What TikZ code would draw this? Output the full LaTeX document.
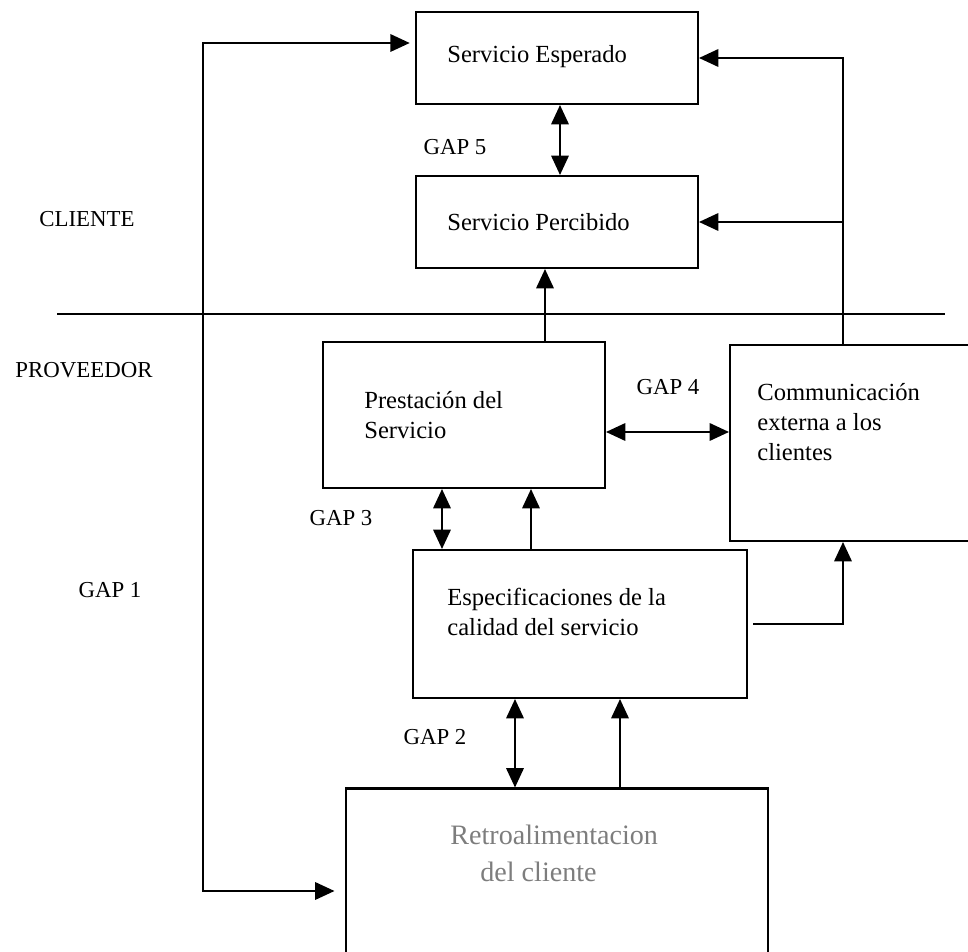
\documentclass[tikz,border=0pt]{standalone}
\usepackage{fontspec}
\setmainfont{Liberation Serif}
\usetikzlibrary{arrows.meta}
\definecolor{retrogray}{RGB}{125,125,125}

\begin{document}
\begin{tikzpicture}[x=0.02cm, y=-0.02cm,
          every node/.style={font=\fontsize{14}{17}\selectfont},
          box/.style={draw,line width=1.2pt,inner sep=0pt},
          txt/.style={anchor=west,align=left,inner sep=0pt},
          lbl/.style={font=\fontsize{13}{15}\selectfont,inner sep=0pt},
          link/.style={line width=0.9pt},
          oarr/.style={link,-{Triangle[length=11pt,width=10pt]}},
          darr/.style={link,{Triangle[length=11pt,width=10pt]}-{Triangle[length=11pt,width=10pt]}},
        ]
        \useasboundingbox (0,0) rectangle (968,952);
        \clip (0,0) rectangle (968,952);
        % boxes
        \node[box,minimum width=5.64cm,minimum height=1.84cm] (esperado) at (557,58) {};
        \node[box,minimum width=5.64cm,minimum height=1.84cm] (percibido) at (557,222) {};
        \node[box,minimum width=5.64cm,minimum height=2.92cm] (prestacion) at (464,415) {};
        \node[box,minimum width=5.0cm,minimum height=3.92cm] (comunic) at (855,443) {};
        \node[box,minimum width=6.68cm,minimum height=2.96cm] (especif) at (580,624) {};
        \node[box,minimum width=8.44cm,minimum height=4.22cm] (retro) at (557,894) {};
        % texts
        \node[txt] (esperadoT) at (447,57) {Servicio Esperado};
        \node[txt] (percibidoT) at (447,222) {Servicio Percibido};
        \node[txt] (prestacionT) at (364,415) {Prestación del\\Servicio};
        \node[txt] (comunicT) at (757,422) {Communicación\\externa a los\\clientes};
        \node[txt] (especifT) at (447,612) {Especificaciones de la\\calidad del servicio};
        \node[txt,font=\fontsize{16}{21}\selectfont,text=retrogray] (retroT) at (450,853)
          {Retroalimentacion\\\hspace*{0.6cm}del cliente};
        \node[lbl] (cliente) at (87,219) {CLIENTE};
        \node[lbl] (proveedor) at (84,370) {PROVEEDOR};
        \node[lbl] (gap1) at (110,590) {GAP 1};
        \node[lbl] (gap2) at (435,737) {GAP 2};
        \node[lbl] (gap3) at (341,518) {GAP 3};
        \node[lbl] (gap4) at (668,387) {GAP 4};
        \node[lbl] (gap5) at (455,147) {GAP 5};
        % divider
        \draw[link] (57,314) -- (945,314);
        % helper coordinates
        \coordinate (rx) at (843,0);
        \coordinate (g5) at (560,0);
        \coordinate (up4) at (545,0);
        \coordinate (g4) at (0,432);
        \coordinate (g3) at (442,0);
        \coordinate (up3) at (531,0);
        \coordinate (g2) at (515,0);
        \coordinate (up2) at (620,0);
        \coordinate (loopTop) at (203,43);
        \coordinate (loopBot) at (203,891);
        % connectors
        \draw[darr] (esperado.south -| g5) -- (percibido.north -| g5);
        \draw[oarr] (prestacion.north -| up4) -- (percibido.south -| up4);
        \draw[darr] (prestacion.east |- g4) -- (comunic.west |- g4);
        \draw[darr] (prestacion.south -| g3) -- (especif.north -| g3);
        \draw[oarr] (especif.north -| up3) -- (prestacion.south -| up3);
        \draw[darr] (especif.south -| g2) -- (retro.north -| g2);
        \draw[oarr] (retro.north -| up2) -- (especif.south -| up2);
        \draw[oarr] ([xshift=3pt]especif.east) -- (especif.east -| rx) -- (comunic.south -| rx);
        \draw[oarr] (comunic.north -| rx) -- (esperado.east -| rx) -- (esperado.east);
        \draw[oarr] (percibido.east -| rx) -- (percibido.east);
        \draw[darr,shorten <=3pt,shorten >=6pt] (esperado.west |- loopTop) -- (loopTop)
          -- (loopBot) -- (retro.west |- loopBot);
\end{tikzpicture}
\end{document}
